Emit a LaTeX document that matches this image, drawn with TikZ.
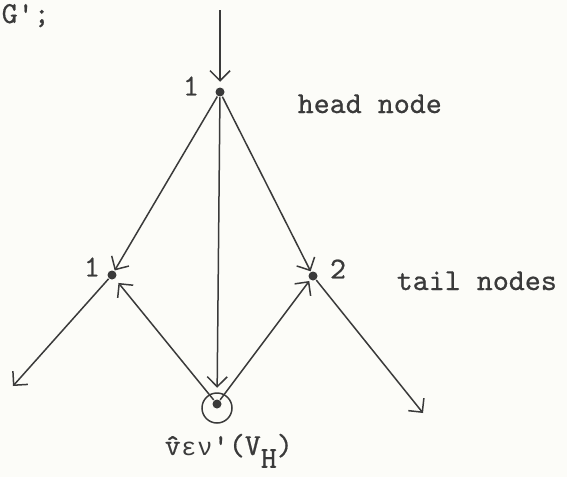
\documentclass[tikz,border=0pt]{standalone}
\usepackage{fontspec}
\newfontfamily\tw{lmmono10-regular.otf}[FakeBold=0.6]
\newfontfamily\grk{Liberation Mono}
\usetikzlibrary{arrows.meta}
\definecolor{ink}{HTML}{3A3A3A}
\definecolor{paper}{HTML}{FCFCF8}
% one typewriter cell holding an upright Greek letter
\newcommand{\twcell}[1]{\makebox[0.525em]{\grk\fontsize{25}{30}\selectfont #1}}
\begin{document}
\begin{tikzpicture}[x=1pt,y=-1pt,
  line width=1.5pt, draw=ink,
  dot/.style={circle,fill=ink,inner sep=0pt,minimum size=9pt},
  ring/.style={circle,draw=ink,line width=1.5pt,inner sep=0pt,minimum size=30pt},
  lbl/.style={font=\tw\fontsize{30.5}{34}\selectfont,text=ink,inner sep=0pt},
  edge/.style={->},
  >={Straight Barb[length=10pt,width=20pt]}]
\fill[paper] (0,0) rectangle (567,477);
\useasboundingbox (0,0) rectangle (567,477);

% graph vertices
\coordinate (in) at (220,10);
\node[dot] (head) at (220,92) {};
\node[dot] (t1) at (112,275) {};
\node[dot] (t2) at (313,276) {};
\node[dot] (v) at (217,404) {};
\node[ring] (vring) at (217,408) {};
\coordinate (outL) at (13,386);
\coordinate (outR) at (423,413);

% arcs
\draw[edge,shorten >=5pt] (in) -- (head);
\draw[edge,shorten >=0pt] (head) -- (t1);
\draw[edge,shorten >=0pt] (head) -- (t2);
\draw[edge,shorten >=11pt] (head) -- (v);
\draw[edge,shorten >=5pt] (v) -- (t1);
\draw[edge,shorten >=1pt] (v) -- (t2);
\draw[edge] (t1) -- (outL);
\draw[edge] (t2) -- (outR);

% labels
\node[lbl,anchor=base west] (g) at (1,23) {G';};
\node[lbl] (n1) at (191,86) {1};
\node[lbl,anchor=base west] (hn) at (297,113) {head node};
\node[lbl] (n1t) at (92,267) {1};
\node[lbl] (n2t) at (338,269) {2};
\node[lbl,anchor=base west] (tn) at (396,290) {tail nodes};
\node[lbl,anchor=base west] (vh) at (164,455)
  {\^{v}\twcell{ε}\twcell{ν}'(V\raisebox{-0.42em}{H})};
\end{tikzpicture}
\end{document}
